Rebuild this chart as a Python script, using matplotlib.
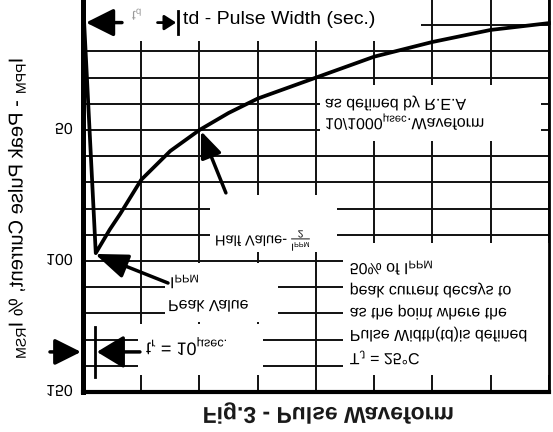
import numpy as np
import matplotlib
matplotlib.use("Agg")
import matplotlib.pyplot as plt
from matplotlib.patches import Rectangle
from matplotlib.patheffects import AbstractPathEffect
from matplotlib.transforms import Affine2D

plt.rcParams['font.family'] = ['Liberation Sans', 'DejaVu Sans']
plt.rcParams['mathtext.default'] = 'regular'

# pulse waveform: time (ms) vs % of I_PPM
time_ms = [0.0, 0.11, 0.23, 0.32, 0.5, 0.75, 1.0, 1.25, 1.5, 2.0, 2.5, 3.0, 3.5, 4.0]
current_pct = [0, 97, 88, 82, 69, 58, 50, 43.5, 38, 30, 22, 16.4, 11.8, 9.2]

x_grid = np.arange(0, 4.01, 0.5)
y_grid = np.arange(0, 151, 10)
y_labels = [50, 100, 150]

# white backgrounds behind the labels (t0, t1, v0, v1), they break the grid
label_boxes = [
    (0.026, 2.90, 0.0, 16.0),
    (2.034, 3.931, 32.8, 54.2),
    (1.090, 2.180, 74.8, 96.6),
    (0.704, 1.674, 100.8, 123.3),
    (0.472, 1.545, 124.1, 143.5),
    (2.232, 4.0, 93.1, 143.5),
]

note_lines = ["50% of I$_{PPM}$", "peak current decays to", "as the point where the",
              "Pulse Width(td)is defined", "T$_J$ = 25°C"]
note_y = [103.4, 112.2, 120.6, 129.0, 137.8]
wave_lines = ["as defined by R.E.A", "10/1000$_{µsec}$.Waveform"]
wave_y = [40.8, 48.5]


class VFlip(AbstractPathEffect):
    """Mirror glyphs top to bottom (the scanned figure is upside down)."""
    def __init__(self, mid=36):
        super().__init__()
        self.mid = mid

    def draw_path(self, renderer, gc, tpath, affine, rgbFace=None):
        flip = Affine2D().scale(1, -1).translate(0, 2 * self.mid)
        renderer.draw_path(gc, tpath, flip + affine, rgbFace)


FLIP = [VFlip()]


def arrow(tail, tip, hl=1.6, hw=0.65, lw=2.5):
    ax.annotate("", xy=tip, xytext=tail, annotation_clip=False,
                arrowprops=dict(arrowstyle=f"-|>,head_length={hl},head_width={hw}",
                                color='black', lw=lw, mutation_scale=10,
                                shrinkA=0, shrinkB=0), zorder=6)


def flipped(x, y, s, size=11.5, **kw):
    kw.setdefault('va', 'center')
    return ax.text(x, y, s, fontsize=size, path_effects=FLIP, zorder=5, **kw)


fig = plt.figure(figsize=(5.53, 4.32), dpi=100)
ax = fig.add_axes([0.150, 0.0926, 0.8427, 0.9097])
ax.set_xlim(0, 4)
ax.set_ylim(150, 0)
ax.set_xticks(x_grid)
ax.set_yticks(y_grid)
ax.tick_params(length=0, labelleft=False, labelbottom=False)
ax.set_axisbelow(True)
ax.grid(True, color='#111111', lw=1.4)
ax.spines['top'].set_visible(False)
ax.spines['left'].set_linewidth(3.6)
ax.spines['bottom'].set_linewidth(3.0)
ax.spines['right'].set_linewidth(2.0)

for t0, t1, v0, v1 in label_boxes:
    ax.add_patch(Rectangle((t0, v0), t1 - t0, v1 - v0, facecolor='white',
                           edgecolor='none', zorder=1))

ax.plot(time_ms, current_pct, color='black', lw=2.7, zorder=3, clip_on=False,
        solid_joinstyle='round')

# axis texts (all mirrored like the scan)
for v in y_labels:
    ax.text(-0.022, v, str(v), transform=ax.get_yaxis_transform(), ha='right',
            va='center', fontsize=11.5, path_effects=FLIP)
ax.text(-0.148, 80, "I$_{PPM}$ - Peak Pulse Current, % I$_{RSM}$",
        transform=ax.get_yaxis_transform(), rotation=270, ha='center', va='center',
        fontsize=14.5, path_effects=FLIP)
ax.text(0.526, -0.064, "Fig.3 - Pulse Waveform", transform=ax.transAxes,
        ha='center', va='center', fontsize=16.5, fontweight='bold', color='#1a1a1a',
        path_effects=FLIP)

# td marker at the top
arrow((0.335, 9), (0.026, 9), hl=1.7, hw=0.85)
arrow((0.64, 9), (0.80, 9), hl=0.7, hw=0.45, lw=2.0)
ax.plot([0.815, 0.815], [4.5, 13.5], color='black', lw=2.0, zorder=6)
flipped(0.42, 6.9, "t$_d$", size=10, color='#999999')
ax.text(0.858, 8.0, "td - Pulse Width (sec.)", fontsize=14, va='center', zorder=5)

# waveform note
for s, v in zip(wave_lines, wave_y):
    flipped(2.077, v, s)

# half value
arrow((1.227, 74.0), (1.013, 50.4), hl=1.6, hw=0.65)
flipped(1.133, 92.0, r"Half Value- $\frac{I_{PPM}}{2}$", size=10.5)

# peak value
arrow((0.730, 108.4), (0.103, 97.3), hl=2.0, hw=0.75)
flipped(0.747, 108.8, "I$_{PPM}$")
flipped(0.730, 117.6, "Peak Value")

# rise time marker
arrow((-0.283, 134.7), (-0.017, 134.7), hl=1.6, hw=0.8)
arrow((0.489, 134.7), (0.120, 134.7), hl=1.65, hw=1.0)
ax.plot([0.103, 0.103], [125.2, 144.3], color='black', lw=2.0, zorder=6)
flipped(0.541, 134.7, "t$_r$ = 10$_{µsec.}$", size=13)

# pulse width definition
for s, v in zip(note_lines, note_y):
    flipped(2.29, v, s)

fig.savefig("out.png", dpi=100)
